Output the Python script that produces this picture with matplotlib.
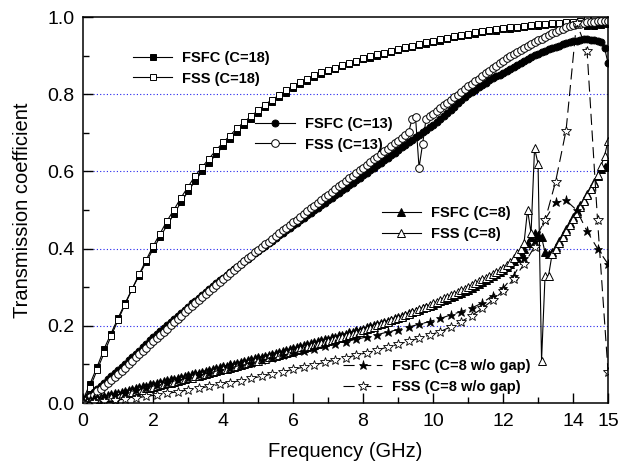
import numpy as np
import matplotlib
matplotlib.use("Agg")
import matplotlib.pyplot as plt

plt.rcParams['font.family'] = ['Liberation Sans', 'DejaVu Sans']

# frequency grids (GHz)
f_c18 = np.round(np.arange(0, 15.01, 0.2), 2)
f_c13 = np.round(np.arange(0, 15.01, 0.1), 2)
f_c8 = np.round(np.arange(0, 15.01, 0.1), 2)
f_star = np.round(np.arange(0, 15.01, 0.3), 2)

# C=18
fsfc_c18 = [0.008, 0.050, 0.093, 0.140, 0.180, 0.220, 0.258, 0.295, 0.330, 0.365,
            0.398, 0.430, 0.460, 0.490, 0.520, 0.548, 0.575, 0.600, 0.622, 0.644,
            0.665, 0.684, 0.703, 0.720, 0.736, 0.751, 0.766, 0.779, 0.792, 0.804,
            0.815, 0.826, 0.835, 0.844, 0.853, 0.860, 0.866, 0.872, 0.878, 0.884,
            0.890, 0.895, 0.900, 0.905, 0.910, 0.915, 0.919, 0.923, 0.927, 0.931,
            0.935, 0.939, 0.943, 0.947, 0.950, 0.954, 0.957, 0.960, 0.963, 0.965,
            0.968, 0.970, 0.972, 0.974, 0.976, 0.978, 0.980, 0.981, 0.982, 0.984,
            0.985, 0.985, 0.978, 0.978, 0.980, 0.982]
fss_c18 = [0.005, 0.040, 0.085, 0.129, 0.173, 0.215, 0.255, 0.295, 0.333, 0.370,
           0.406, 0.439, 0.472, 0.501, 0.532, 0.560, 0.588, 0.611, 0.633, 0.655,
           0.675, 0.693, 0.712, 0.728, 0.743, 0.758, 0.773, 0.786, 0.797, 0.810,
           0.820, 0.831, 0.840, 0.849, 0.857, 0.863, 0.869, 0.875, 0.881, 0.887,
           0.893, 0.898, 0.903, 0.908, 0.913, 0.918, 0.922, 0.926, 0.930, 0.934,
           0.938, 0.942, 0.946, 0.950, 0.953, 0.957, 0.960, 0.963, 0.966, 0.968,
           0.971, 0.973, 0.975, 0.977, 0.979, 0.981, 0.983, 0.984, 0.985, 0.987,
           0.988, 0.989, 0.995, 0.998, 0.995, 0.990]

# C=13
fsfc_c13 = [0.005, 0.013, 0.021, 0.029, 0.037, 0.045, 0.053, 0.061, 0.069, 0.077, 0.085,
            0.094, 0.102, 0.111, 0.119, 0.128, 0.136, 0.145, 0.153, 0.162, 0.170,
            0.178, 0.186, 0.194, 0.202, 0.210, 0.218, 0.226, 0.234, 0.242, 0.250,
            0.258, 0.265, 0.273, 0.280, 0.288, 0.295, 0.303, 0.310, 0.318, 0.325,
            0.332, 0.339, 0.346, 0.353, 0.360, 0.367, 0.374, 0.381, 0.388, 0.395,
            0.402, 0.408, 0.415, 0.421, 0.428, 0.434, 0.441, 0.447, 0.454, 0.460,
            0.467, 0.473, 0.480, 0.486, 0.493, 0.499, 0.506, 0.512, 0.519, 0.525,
            0.532, 0.538, 0.545, 0.551, 0.558, 0.564, 0.571, 0.577, 0.584, 0.590,
            0.597, 0.603, 0.610, 0.616, 0.623, 0.629, 0.636, 0.642, 0.649, 0.655,
            0.662, 0.668, 0.675, 0.681, 0.688, 0.694, 0.701, 0.707, 0.714, 0.720,
            0.728, 0.736, 0.744, 0.752, 0.760, 0.768, 0.776, 0.784, 0.792, 0.800,
            0.806, 0.812, 0.818, 0.824, 0.830, 0.836, 0.842, 0.847, 0.851, 0.855,
            0.861, 0.866, 0.871, 0.876, 0.881, 0.886, 0.891, 0.896, 0.901, 0.905,
            0.909, 0.913, 0.917, 0.920, 0.923, 0.926, 0.929, 0.932, 0.935, 0.937,
            0.939, 0.941, 0.942, 0.942, 0.941, 0.940, 0.938, 0.935, 0.920, 0.880]
fss_c13 = [0.000, 0.007, 0.015, 0.022, 0.030, 0.037, 0.045, 0.052, 0.060, 0.067, 0.075,
           0.084, 0.092, 0.101, 0.109, 0.118, 0.126, 0.135, 0.143, 0.152, 0.160,
           0.168, 0.177, 0.185, 0.193, 0.202, 0.210, 0.218, 0.226, 0.235, 0.243,
           0.251, 0.259, 0.267, 0.275, 0.283, 0.290, 0.298, 0.306, 0.314, 0.322,
           0.330, 0.337, 0.345, 0.352, 0.360, 0.367, 0.375, 0.382, 0.390, 0.397,
           0.404, 0.411, 0.418, 0.425, 0.433, 0.440, 0.447, 0.454, 0.461, 0.468,
           0.475, 0.482, 0.490, 0.497, 0.504, 0.511, 0.518, 0.526, 0.533, 0.540,
           0.547, 0.554, 0.561, 0.568, 0.575, 0.582, 0.589, 0.596, 0.603, 0.610,
           0.617, 0.624, 0.631, 0.638, 0.645, 0.652, 0.659, 0.666, 0.673, 0.680,
           0.687, 0.694, 0.701, 0.735, 0.740, 0.610, 0.670, 0.736, 0.743, 0.750,
           0.757, 0.764, 0.771, 0.778, 0.785, 0.792, 0.799, 0.806, 0.813, 0.820,
           0.827, 0.834, 0.840, 0.847, 0.854, 0.860, 0.867, 0.874, 0.880, 0.887,
           0.893, 0.898, 0.904, 0.909, 0.914, 0.919, 0.924, 0.929, 0.935, 0.940,
           0.944, 0.949, 0.953, 0.958, 0.962, 0.966, 0.970, 0.973, 0.977, 0.980,
           0.982, 0.983, 0.985, 0.986, 0.988, 0.988, 0.989, 0.989, 0.990, 0.990]

# C=8
fsfc_c8 = [0.005, 0.007, 0.009, 0.012, 0.014, 0.016, 0.018, 0.020, 0.023, 0.025, 0.027,
           0.029, 0.032, 0.034, 0.036, 0.039, 0.041, 0.043, 0.045, 0.048, 0.050,
           0.052, 0.054, 0.057, 0.059, 0.061, 0.063, 0.065, 0.068, 0.070, 0.072,
           0.074, 0.077, 0.079, 0.081, 0.084, 0.086, 0.088, 0.090, 0.093, 0.095,
           0.097, 0.100, 0.102, 0.104, 0.107, 0.109, 0.111, 0.113, 0.116, 0.118,
           0.120, 0.123, 0.125, 0.128, 0.130, 0.132, 0.135, 0.137, 0.140, 0.142,
           0.145, 0.147, 0.150, 0.152, 0.155, 0.157, 0.160, 0.162, 0.165, 0.167,
           0.170, 0.172, 0.175, 0.177, 0.180, 0.183, 0.185, 0.188, 0.190, 0.193,
           0.196, 0.199, 0.202, 0.205, 0.208, 0.210, 0.213, 0.216, 0.219, 0.222,
           0.225, 0.229, 0.232, 0.235, 0.239, 0.242, 0.245, 0.248, 0.252, 0.255,
           0.259, 0.263, 0.266, 0.270, 0.274, 0.278, 0.282, 0.285, 0.289, 0.293,
           0.298, 0.303, 0.308, 0.313, 0.319, 0.324, 0.329, 0.334, 0.340, 0.345,
           0.352, 0.360, 0.368, 0.376, 0.385, 0.400, 0.415, 0.430, 0.440, 0.435,
           0.430, 0.390, 0.385, 0.390, 0.405, 0.420, 0.435, 0.451, 0.466, 0.482,
           0.497, 0.512, 0.527, 0.542, 0.558, 0.573, 0.589, 0.605, 0.612, 0.620]
fss_c8 = [0.000, 0.002, 0.004, 0.006, 0.008, 0.010, 0.012, 0.014, 0.016, 0.018, 0.020,
          0.022, 0.024, 0.027, 0.029, 0.031, 0.033, 0.035, 0.038, 0.040, 0.042,
          0.044, 0.046, 0.049, 0.051, 0.053, 0.055, 0.057, 0.060, 0.062, 0.064,
          0.066, 0.069, 0.071, 0.073, 0.076, 0.078, 0.080, 0.082, 0.085, 0.087,
          0.089, 0.092, 0.094, 0.096, 0.099, 0.101, 0.103, 0.105, 0.108, 0.110,
          0.113, 0.115, 0.118, 0.120, 0.123, 0.125, 0.128, 0.130, 0.133, 0.135,
          0.138, 0.140, 0.143, 0.145, 0.148, 0.150, 0.153, 0.155, 0.158, 0.160,
          0.163, 0.166, 0.168, 0.171, 0.174, 0.177, 0.180, 0.182, 0.185, 0.188,
          0.191, 0.194, 0.198, 0.201, 0.204, 0.207, 0.210, 0.214, 0.217, 0.220,
          0.224, 0.228, 0.231, 0.235, 0.239, 0.243, 0.247, 0.250, 0.254, 0.258,
          0.262, 0.266, 0.271, 0.275, 0.279, 0.283, 0.287, 0.292, 0.296, 0.300,
          0.305, 0.310, 0.315, 0.320, 0.325, 0.330, 0.335, 0.340, 0.345, 0.350,
          0.358, 0.366, 0.375, 0.388, 0.400, 0.415, 0.500, 0.440, 0.660, 0.620,
          0.110, 0.330, 0.330, 0.385, 0.400, 0.415, 0.430, 0.445, 0.462, 0.478,
          0.493, 0.508, 0.523, 0.538, 0.554, 0.570, 0.592, 0.615, 0.640, 0.680]

# C=8 without gap
fsfc_nogap = [0.000, 0.007, 0.013, 0.020, 0.026, 0.033, 0.040, 0.046, 0.053, 0.059,
              0.065, 0.072, 0.078, 0.085, 0.091, 0.098, 0.104, 0.111, 0.117, 0.124,
              0.130, 0.135, 0.141, 0.147, 0.153, 0.159, 0.165, 0.171, 0.177, 0.184,
              0.190, 0.197, 0.204, 0.211, 0.219, 0.228, 0.237, 0.246, 0.259, 0.278,
              0.297, 0.330, 0.375, 0.420, 0.475, 0.520, 0.525, 0.500, 0.445, 0.400,
              0.360]
fss_nogap = [0.000, 0.002, 0.004, 0.007, 0.010, 0.013, 0.017, 0.021, 0.025, 0.029,
             0.034, 0.038, 0.043, 0.048, 0.053, 0.058, 0.064, 0.069, 0.075, 0.081,
             0.087, 0.093, 0.099, 0.105, 0.111, 0.117, 0.124, 0.130, 0.137, 0.145,
             0.152, 0.160, 0.168, 0.176, 0.185, 0.197, 0.211, 0.226, 0.245, 0.266,
             0.290, 0.320, 0.360, 0.405, 0.473, 0.573, 0.706, 0.985, 0.913, 0.473,
             0.081]

fig = plt.figure(figsize=(6.29, 4.65), dpi=100)
ax = fig.add_axes([0.132, 0.1333, 0.8347, 0.8301])

# dotted blue reference lines
for yv in [0.2, 0.4, 0.6, 0.8]:
    ax.axhline(yv, color='#2222ee', lw=0.8, ls=(0, (1, 2)), zorder=0)

lw = 0.8
l1, = ax.plot(f_c18, fsfc_c18, '-', color='k', lw=lw, marker='s', ms=5, mfc='k', mec='k', mew=0.7)
l2, = ax.plot(f_c18, fss_c18, '-', color='k', lw=lw, marker='s', ms=5, mfc='white', mec='k', mew=0.7)
l3, = ax.plot(f_c13, fsfc_c13, '-', color='k', lw=lw, marker='o', ms=5, mfc='k', mec='k', mew=0.7)
l4, = ax.plot(f_c13, fss_c13, '-', color='k', lw=lw, marker='o', ms=5.5, mfc='white', mec='k', mew=0.7)
l5, = ax.plot(f_c8, fsfc_c8, '-', color='k', lw=lw, marker='^', ms=5.5, mfc='k', mec='k', mew=0.7)
l6, = ax.plot(f_c8, fss_c8, '-', color='k', lw=lw, marker='^', ms=6, mfc='white', mec='k', mew=0.7)
l7, = ax.plot(f_star, fsfc_nogap, color='k', lw=lw, ls=(0, (10, 5)), marker='*', ms=6.5, mfc='k', mec='k', mew=0.5)
l8, = ax.plot(f_star, fss_nogap, color='k', lw=lw, ls=(0, (10, 5)), marker='*', ms=7.5, mfc='white', mec='k', mew=0.6)

ax.set_xlim(0, 15)
ax.set_ylim(0, 1.0)
ax.set_xticks([0, 2, 4, 6, 8, 10, 12, 14, 15])
ax.set_xticks([1, 3, 5, 7, 9, 11, 13], minor=True)
ax.set_yticks(np.round(np.arange(0, 1.01, 0.2), 1))
ax.set_yticks(np.round(np.arange(0.1, 1.0, 0.2), 1), minor=True)
ax.yaxis.set_major_formatter(matplotlib.ticker.FormatStrFormatter('%.1f'))
ax.tick_params(which='both', direction='in', top=False, right=False, labelsize=14, width=1.0)
ax.tick_params(which='major', length=7)
ax.tick_params(axis='x', which='major', pad=7)
ax.tick_params(axis='y', which='major', pad=6)
ax.tick_params(which='minor', length=4)
for s in ax.spines.values():
    s.set_linewidth(1.1)

ax.set_xlabel('Frequency (GHz)', fontsize=14.5, labelpad=9)
ax.set_ylabel('Transmission coefficient', fontsize=14.5, labelpad=11)

leg_kw = dict(frameon=False, loc='upper left', borderpad=0, borderaxespad=0,
              handlelength=2.7, handletextpad=0.7, labelspacing=0.45,
              prop={'weight': 'bold', 'size': 10.5})
lg1 = ax.legend([l1, l2], ['FSFC (C=18)', 'FSS (C=18)'], bbox_to_anchor=(0.095, 0.912), **leg_kw)
ax.add_artist(lg1)
lg2 = ax.legend([l3, l4], ['FSFC (C=13)', 'FSS (C=13)'], bbox_to_anchor=(0.328, 0.741), **leg_kw)
ax.add_artist(lg2)
lg3 = ax.legend([l5, l6], ['FSFC (C=8)', 'FSS (C=8)'], bbox_to_anchor=(0.569, 0.510), **leg_kw)
ax.add_artist(lg3)
lg4 = ax.legend([l7, l8], ['FSFC (C=8 w/o gap)', 'FSS (C=8 w/o gap)'], bbox_to_anchor=(0.495, 0.113), **leg_kw)

fig.savefig('out.png', dpi=100)
